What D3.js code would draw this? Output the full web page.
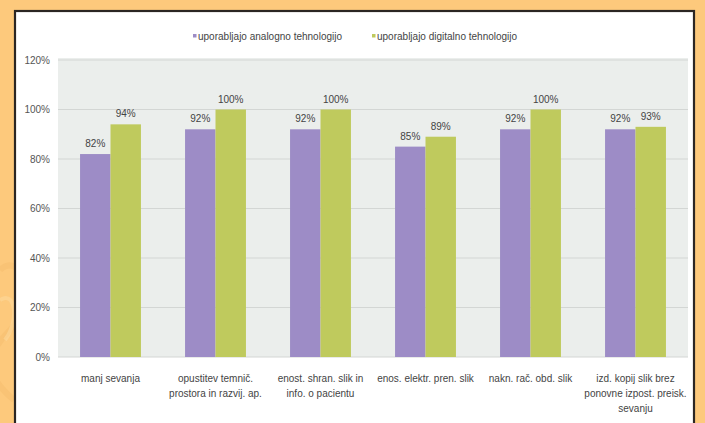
<!DOCTYPE html>
<html>
<head>
<meta charset="utf-8">
<script src="https://cdn.jsdelivr.net/npm/d3@7"></script>
<style>
  html, body { margin: 0; padding: 0; background: #fdc97c; }
  svg { display: block; }
  text { font-family: "Liberation Sans", Arial, sans-serif; }
</style>
</head>
<body>
<svg id="chart" width="705" height="423"></svg>
<script>
// Category labels (each entry is a list of lines)
const categories = [
  ["manj sevanja"],
  ["opustitev temnič.", "prostora in razvij. ap."],
  ["enost. shran. slik in", "info. o pacientu"],
  ["enos. elektr. pren. slik"],
  ["nakn. rač. obd. slik"],
  ["izd. kopij slik brez", "ponovne izpost. preisk.", "sevanju"]
];
const seriesNames = ["uporabljajo analogno tehnologijo", "uporabljajo digitalno tehnologijo"];
const analogValues = [82, 92, 92, 85, 92, 92];
const digitalValues = [94, 100, 100, 89, 100, 93];
const yTicks = [0, 20, 40, 60, 80, 100, 120];

const colors = ["#9d8cc6", "#bfca5d"];

const svg = d3.select("#chart");
const W = 705, H = 423;

// orange backdrop with soft swirl on the left side
const bg = svg.append("g");
bg.append("rect").attr("width", W).attr("height", H).attr("fill", "#fdc97c");
bg.append("path")
  .attr("d", "M0,270 C20,250 40,300 10,330 S-10,380 14,400")
  .attr("fill", "none").attr("stroke", "#f5bd6e").attr("stroke-width", 6).attr("opacity", 0.5);
bg.append("path")
  .attr("d", "M0,300 C15,290 20,320 5,340")
  .attr("fill", "none").attr("stroke", "#fedba0").attr("stroke-width", 4).attr("opacity", 0.5);

// framed white panel
svg.append("rect")
  .attr("x", 15).attr("y", 11).attr("width", 679).attr("height", 420)
  .attr("fill", "#ffffff").attr("stroke", "#2b2623").attr("stroke-width", 2.2);

const plot = { left: 58, right: 688, top: 60, bottom: 357 };

const x0 = d3.scaleBand()
  .domain(d3.range(categories.length))
  .range([plot.left, plot.right])
  .padding(0);
const barW = x0.bandwidth() * 0.29;

const y = d3.scaleLinear().domain([0, 120]).range([plot.bottom, plot.top]);

// plot background
svg.append("rect")
  .attr("x", plot.left).attr("y", plot.top - 2)
  .attr("width", plot.right - plot.left).attr("height", plot.bottom - plot.top + 2)
  .attr("fill", "#ebeeec");

// gridlines
svg.append("g")
  .selectAll("line")
  .data(yTicks)
  .join("line")
  .attr("x1", plot.left).attr("x2", plot.right)
  .attr("y1", d => y(d)).attr("y2", d => y(d))
  .attr("stroke", "#d3d6d4").attr("stroke-width", 1.2);

// y axis labels
const yAxis = d3.axisLeft(y).tickValues(yTicks).tickSize(0).tickPadding(8)
  .tickFormat(d => d + "%");
svg.append("g")
  .attr("transform", `translate(${plot.left},0)`)
  .call(yAxis)
  .call(g => g.select(".domain").remove())
  .call(g => g.selectAll("text").attr("font-size", 10).attr("fill", "#555")
    .attr("font-family", "'Liberation Sans', Arial, sans-serif"));

// bars with value labels
const series = [analogValues, digitalValues];
series.forEach((vals, si) => {
  const g = svg.append("g");
  g.selectAll("rect")
    .data(vals)
    .join("rect")
    .attr("x", (d, i) => x0(i) + x0.bandwidth() / 2 - barW + si * barW)
    .attr("y", d => y(d))
    .attr("width", barW)
    .attr("height", d => y(0) - y(d))
    .attr("fill", colors[si]);
  g.selectAll("text")
    .data(vals)
    .join("text")
    .attr("x", (d, i) => x0(i) + x0.bandwidth() / 2 - barW / 2 + si * barW)
    .attr("y", d => y(d) - 7)
    .attr("text-anchor", "middle")
    .attr("font-size", 10)
    .attr("fill", "#444")
    .text(d => d + "%");
});

// category labels
const xl = svg.append("g");
categories.forEach((lines, i) => {
  const cx = x0(i) + x0.bandwidth() / 2;
  const t = xl.append("text")
    .attr("x", cx)
    .attr("y", 382)
    .attr("text-anchor", "middle")
    .attr("font-size", 10)
    .attr("fill", "#444");
  lines.forEach((ln, k) => {
    t.append("tspan").attr("x", cx).attr("dy", k === 0 ? 0 : 15).text(ln);
  });
});

// legend
const legendX = [193, 372];
const lg = svg.append("g");
seriesNames.forEach((name, i) => {
  lg.append("rect").attr("x", legendX[i]).attr("y", 34).attr("width", 3.5).attr("height", 3.5)
    .attr("fill", colors[i]);
  lg.append("text").attr("x", legendX[i] + 5).attr("y", 40)
    .attr("font-size", 10).attr("fill", "#444").text(name);
});
</script>
</body>
</html>
